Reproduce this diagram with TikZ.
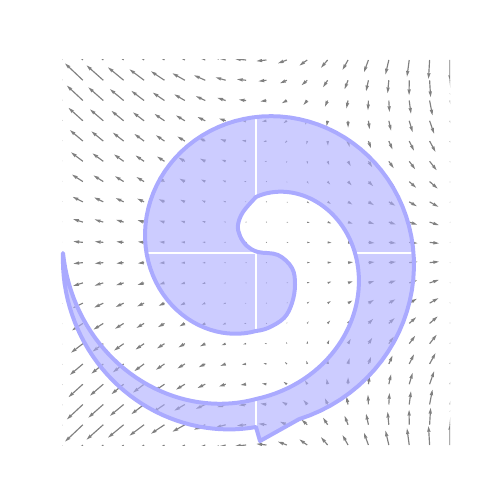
\documentclass[tikz,border=0pt]{standalone}
\begin{document}
\begin{tikzpicture}[x=1pt,y=-1pt,
  declare function={
    ro(\t)=41.5+39*\t-2.5*\t*\t;
    rf(\t)=174+49*(\t-5)-30*(\t-5)*(\t-5);
    rfi(\t)=146+63*(\t-5)-16*(\t-5)*(\t-5);
    ri(\t)=56+41*(\t-3)+2*(\t-3)*(\t-3);
  }]
\useasboundingbox (0,0) rectangle (500,500);
\definecolor{spfill}{RGB}{170,170,255}
\definecolor{spedge}{RGB}{170,170,255}
\definecolor{qgray}{RGB}{128,128,128}
\def\aw{1.16}
\def\qs{10.5}
% quiver field
\begin{scope}
\clip (62.5,60) rectangle (450,445);
\foreach \i in {0,...,19}{
 \foreach \j in {0,...,19}{
  \pgfmathsetmacro\px{62.5+\i*20.394737}
  \pgfmathsetmacro\py{60+\j*20.263158}
  \pgfmathsetmacro\uu{(\px-256.25)/193.75}
  \pgfmathsetmacro\vv{(252.5-\py)/192.5}
  \pgfmathsetmacro\qU{\uu-\vv*\vv}
  \pgfmathsetmacro\qV{2*\uu*\vv}
  \pgfmathsetmacro\qm{veclen(\qU,\qV)}
  \pgfmathsetmacro\ex{\qU/\qm*\aw}
  \pgfmathsetmacro\ey{\qV/\qm*\aw}
  \pgfmathsetmacro\lw{\qs*\qm/\aw}
  \pgfmathsetmacro\qk{min(1,\lw/5)}
  \pgfmathsetmacro\qa{max(\lw-5,0)}
  \pgfmathsetmacro\qb{\qa+0.5*\qk}
  \ifdim\lw pt<1pt
    \fill[qgray] (\px,\py) circle (0.58);
  \else
    \fill[qgray]
      ({\px-0.5*\qk*\ey},{\py+0.5*\qk*\ex})
      -- ({\px+\qb*\ex-0.5*\qk*\ey},{\py+\qb*\ey+0.5*\qk*\ex})
      -- ({\px+\qa*\ex-1.5*\qk*\ey},{\py+\qa*\ey+1.5*\qk*\ex})
      -- ({\px+\lw*\ex},{\py+\lw*\ey})
      -- ({\px+\qa*\ex+1.5*\qk*\ey},{\py+\qa*\ey-1.5*\qk*\ex})
      -- ({\px+\qb*\ex+0.5*\qk*\ey},{\py+\qb*\ey-0.5*\qk*\ex})
      -- ({\px+0.5*\qk*\ey},{\py-0.5*\qk*\ex}) -- cycle;
  \fi
 }}
\end{scope}
% spiral band
\def\spiral{plot[domain=1:4.84,samples=90,variable=\t] ({256+ro(\t)*cos(90*\t)},{253+ro(\t)*sin(90*\t)})
  -- (260,441) -- (256,427)
  -- plot[domain=5:6,samples=40,variable=\t] ({256+rf(\t)*cos(90*\t)},{253+rf(\t)*sin(90*\t)})
  -- plot[domain=6:5,samples=40,variable=\t] ({256+rfi(\t)*cos(90*\t)},{253+rfi(\t)*sin(90*\t)})
  -- plot[domain=5:3,samples=70,variable=\t] ({256+ri(\t)*cos(90*\t)},{253+ri(\t)*sin(90*\t)})
  -- plot[smooth,tension=0.6] coordinates {(256,197) (243,212) (238,225) (240,236) (247,246) (258,252) (278,255) (292,268) (295,285) (292,303) (284,318) (268,328) (256,331)}
  -- cycle}
\fill[spfill,fill opacity=0.6] \spiral;
\begin{scope}
\clip \spiral;
\draw[white,line width=2] (256,50) -- (256,450) (50,253) -- (450,253);
\end{scope}
\draw[spedge,line width=4,line join=round] \spiral;
\end{tikzpicture}
\end{document}
